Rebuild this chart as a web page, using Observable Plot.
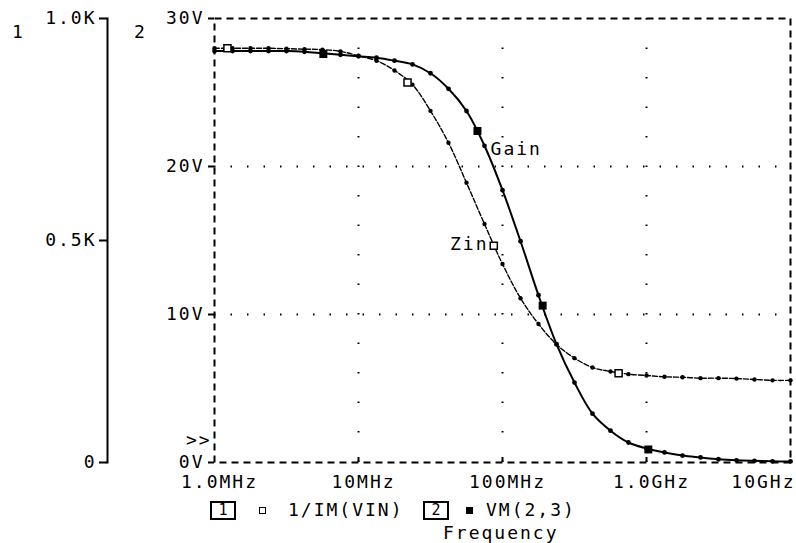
<!DOCTYPE html>
<html><head><meta charset="utf-8">
<script src="https://cdn.jsdelivr.net/npm/d3@7"></script>
<script src="https://cdn.jsdelivr.net/npm/@observablehq/plot@0.6"></script>
<style>
body{margin:0;background:#fff;}
#wrap{position:relative;width:796px;height:543px;font-family:"DejaVu Sans Mono",monospace;color:#000;overflow:hidden;}
#chart{position:absolute;left:0;top:0;}
.lbl{position:absolute;font-size:18px;line-height:18px;letter-spacing:2px;white-space:pre;}
.box{position:absolute;box-sizing:border-box;width:26px;height:19px;border:2px solid #000;font-size:15px;line-height:15px;text-align:center;}
.sq{position:absolute;box-sizing:border-box;width:7px;height:7px;border:1.5px solid #000;}
</style></head><body><div id="wrap"><div id="chart"></div></div>
<script>
// ---- data ----
const freqHz = [1.000e6,1.334e6,1.778e6,2.371e6,3.162e6,4.217e6,5.623e6,7.499e6,
  1.000e7,1.334e7,1.778e7,2.371e7,3.162e7,4.217e7,5.623e7,7.499e7,
  1.000e8,1.334e8,1.778e8,2.371e8,3.162e8,4.217e8,5.623e8,7.499e8,
  1.000e9,1.334e9,1.778e9,2.371e9,3.162e9,4.217e9,5.623e9,7.499e9,1.000e10];
const gainV = [27.8,27.8,27.8,27.8,27.8,27.75,27.65,27.55,27.45,27.35,27.15,26.9,26.3,25.25,23.75,21.4,
  18.4,14.95,11.3,8.0,5.4,3.3,2.15,1.35,0.95,0.68,0.47,0.34,0.22,0.15,0.11,0.08,0.07];
const zinOhm = [933,933,933,933,932,931,930,926,916,905,883,851,792,720,630,537,
  447,370,312,266,235,214,205,199,196,193,192,190,190,189,187,185,185];
const zinMarkHz = [1.23e6,2.19e7,8.7e7,6.4e8];
const zinMarkOhm = [933,856,488,201];
const gainMarkHz = [5.7e6,6.7e7,1.9e8,1.03e9];
const gainMarkV = [27.6,22.4,10.6,0.88];
const xTickHz = [1e6,1e7,1e8,1e9,1e10];
const xTickLabels = ["1.0MHz","10MHz","100MHz","1.0GHz","10GHz"];
const gridHz = [1e7,1e8,1e9];
const gridV = [10,20];
const voltTicks = [0,10,20,30];
const voltLabels = ["0V","10V","20V","30V"];
const zinTicks = [0,500,1000];
const zinLabels = ["0","0.5K","1.0K"];
const zinFull = 1000, voltFull = 30;
const seriesNames = ["1/IM(VIN)","VM(2,3)"];
const curveLabelText = ["Gain","Zin"];
const curveLabelHz = [8.26e7,7.74e7];
const curveLabelV = [21.2,14.76];
// --------------------------------------

const toV = o => o * voltFull / zinFull;
const gain = freqHz.map((f,i)=>({f, v: gainV[i]}));
const zin = freqHz.map((f,i)=>({f, v: toV(zinOhm[i])}));
const zinMarks = zinMarkHz.map((f,i)=>({f, v: toV(zinMarkOhm[i])}));
const gainMarks = gainMarkHz.map((f,i)=>({f, v: gainMarkV[i]}));
const xTicks = xTickHz.map((f,i)=>({f, label: xTickLabels[i]}));

const chart = Plot.plot({
  width:796, height:543, marginTop:18, marginRight:6, marginBottom:81, marginLeft:214,
  style:{fontFamily:'"DejaVu Sans Mono", monospace', fontSize:"18px", letterSpacing:"2px", background:"#fff", color:"#000", overflow:"visible"},
  x:{type:"log", domain:[1e6,1e10], axis:null},
  y:{domain:[0,30], axis:null},
  marks:[
    Plot.ruleY(gridV, {strokeDasharray:"1.5,15", strokeWidth:2}),
    Plot.ruleX(gridHz, {strokeDasharray:"1.5,28", strokeWidth:2}),
    Plot.frame({strokeDasharray:"7,5", strokeWidth:2}),
    Plot.axisY(voltTicks, {anchor:"left", tickSize:6, tickPadding:4, strokeWidth:2, label:null,
      tickFormat: d => voltLabels[voltTicks.indexOf(d)]}),
    Plot.axisY(zinTicks.map(toV), {anchor:"left", dx:-107, tickSize:8, tickPadding:3, strokeWidth:2, label:null,
      tickFormat: d => zinLabels[zinTicks.findIndex(t => Math.abs(toV(t)-d) < 1e-9)]}),
    Plot.frame({anchor:"left", dx:-107, strokeWidth:2}),
    Plot.axisX(xTickHz.slice(1,-1), {anchor:"bottom", tickSize:5, dy:-5, strokeWidth:2, label:null, tickFormat:()=>""}),
    Plot.text(xTicks.slice(0,-1), {x:"f", text:"label", frameAnchor:"bottom", dy:25, dx:5}),
    Plot.text(xTicks.slice(-1), {x:"f", text:"label", frameAnchor:"bottom", dy:25, dx:5, textAnchor:"end"}),
    Plot.line(zin, {x:"f", y:"v", strokeWidth:1.4, strokeDasharray:"5,2", curve:"catmull-rom"}),
    Plot.line(gain, {x:"f", y:"v", strokeWidth:2, curve:"catmull-rom"}),
    Plot.dot(zin, {x:"f", y:"v", r:2.2, fill:"black"}),
    Plot.dot(gain, {x:"f", y:"v", r:2.4, fill:"black"}),
    Plot.dot(zinMarks, {x:"f", y:"v", symbol:"square", r:4, fill:"white", stroke:"black", strokeWidth:1.5}),
    Plot.dot(gainMarks, {x:"f", y:"v", symbol:"square", r:4.5, fill:"black"}),
    Plot.text([0], {x: i=>curveLabelHz[0], y: i=>curveLabelV[0], text: i=>curveLabelText[0], textAnchor:"start"}),
    Plot.text([1], {x: i=>curveLabelHz[1], y: i=>curveLabelV[1], text: i=>curveLabelText[1], textAnchor:"end", dx:2})
  ]
});
document.getElementById("chart").appendChild(chart);

const wrap = document.getElementById("wrap");
function add(cls, left, top, text, extra){
  const d = document.createElement("div");
  d.className = cls; d.style.left = left+"px"; d.style.top = top+"px";
  if (text != null) d.textContent = text;
  if (extra) Object.assign(d.style, extra);
  wrap.appendChild(d); return d;
}
add("lbl", 12, 23, "1");
add("lbl", 134, 23, "2");
add("lbl", 186, 431, ">>");
add("box", 210, 501, "1");
add("sq", 259, 507, null, {background:"#fff"});
add("lbl", 288, 501, seriesNames[0]);
add("box", 423, 501, "2");
add("sq", 466, 507, null, {background:"#000"});
add("lbl", 486, 501, seriesNames[1]);
add("lbl", 443, 524, "Frequency");
</script></body></html>
